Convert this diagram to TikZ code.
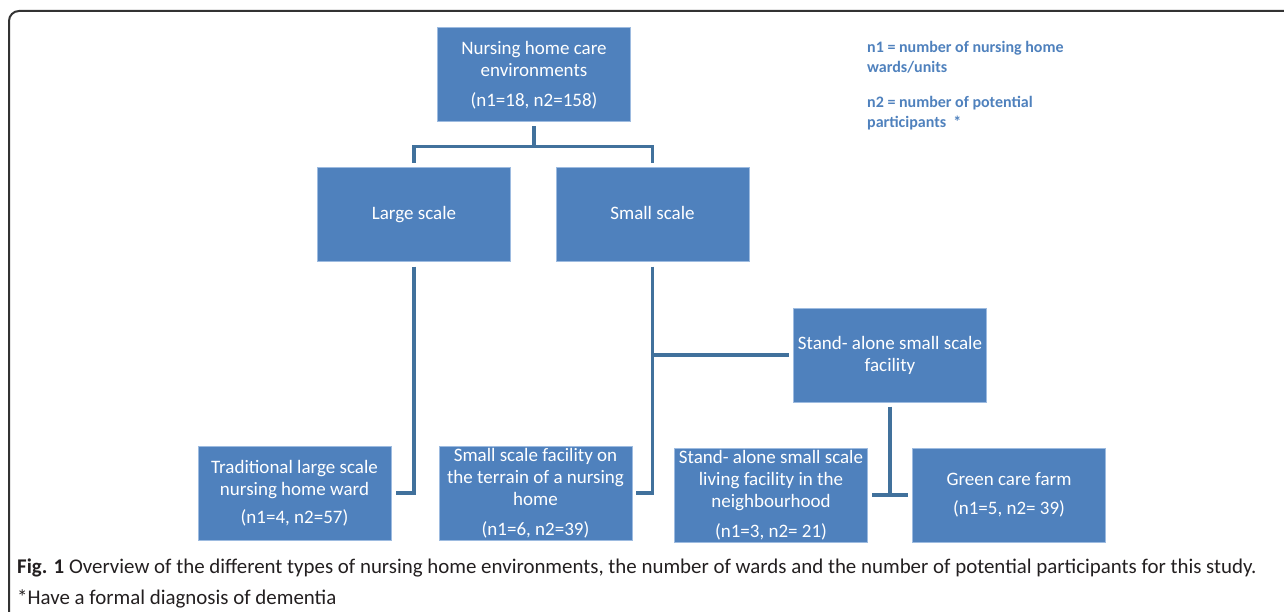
\documentclass[tikz,border=0pt]{standalone}
\usepackage{fontspec}
\setmainfont{Carlito}
\usetikzlibrary{calc}
\definecolor{boxfill}{HTML}{4F81BD}
\definecolor{boxline}{HTML}{9DBBE0}
\definecolor{conncol}{HTML}{41719C}
\definecolor{legcol}{HTML}{4F81BD}
\definecolor{framecol}{HTML}{333333}
\definecolor{capcol}{HTML}{231F20}
\tikzset{
  box/.style={draw=boxline, line width=1pt, fill=boxfill, text=white,
    minimum width=193pt, minimum height=94pt, inner sep=0pt, align=center,
    font=\fontsize{19}{22}\selectfont},
  conn/.style={draw=conncol, line width=3.5pt},
  legend/.style={text=legcol, font=\fontsize{16}{20}\selectfont\bfseries, align=left, anchor=west, inner sep=0pt},
}
\begin{document}
\begin{tikzpicture}[x=1pt,y=-1pt]
\useasboundingbox (0,0) rectangle (1284,612);
% frame
\draw[framecol, line width=2pt, rounded corners=10pt] (9,612) -- (9,11) -- (1284,11);
% boxes
\node[box] (top) at (534,75) {Nursing home care\\environments\\[8pt](n1=18, n2=158)};
\node[box] (large) at (414,215) {\strut Large scale};
\node[box] (small) at (652.5,215) {\strut Small scale};
\node[box] (stand) at (890,355) {Stand- alone small scale\\facility};
\node[box] (trad) at (294.5,493) {Traditional large scale\\nursing home ward\\[6pt](n1=4, n2=57)};
\node[box] (terrain) at (535.5,493) {Small scale facility on\\the terrain of a nursing\\home\\[8pt](n1=6, n2=39)};
\node[box] (living) at (771,495) {Stand- alone small scale\\living facility in the\\neighbourhood\\[8pt](n1=3, n2= 21)};
\node[box] (green) at (1009,495) {Green care farm\\[7pt](n1=5, n2= 39)};
% legend
\node[legend] (leg1) at (867,57) {n1 = number of nursing home\\wards/units};
\node[legend] (leg2) at (867,113) {n2 = number of potential\\participants~ *};
% connectors
\coordinate (j1) at ($(top.south)+(0,24)$);
\draw[conn, shorten <=4pt] (top.south) -- (j1);
\draw[conn, shorten >=4pt] (j1) -| (large.north);
\draw[conn, shorten >=4pt] (j1) -| (small.north);
\draw[conn, shorten <=4pt, shorten >=4pt] (large.south) |- (trad.east);
\draw[conn, shorten <=4pt, shorten >=3pt] (small.south) |- (terrain.east);
\draw[conn, shorten >=4pt] (small.south |- stand.west) -- (stand.west);
\coordinate (j2) at (stand.south |- living.east);
\draw[conn, shorten <=4pt] (stand.south) -- (j2);
\draw[conn, shorten <=4pt, shorten >=4pt] (living.east) -- (green.west);
% caption
\node[anchor=north west, inner sep=0pt, align=left, text=capcol, font=\fontsize{20.9}{31}\selectfont] (cap) at (17,559)
 {\textbf{Fig. 1} Overview of the different types of nursing home environments, the number of wards and the number of potential participants for this study.\\*Have a formal diagnosis of dementia};
\end{tikzpicture}
\end{document}
